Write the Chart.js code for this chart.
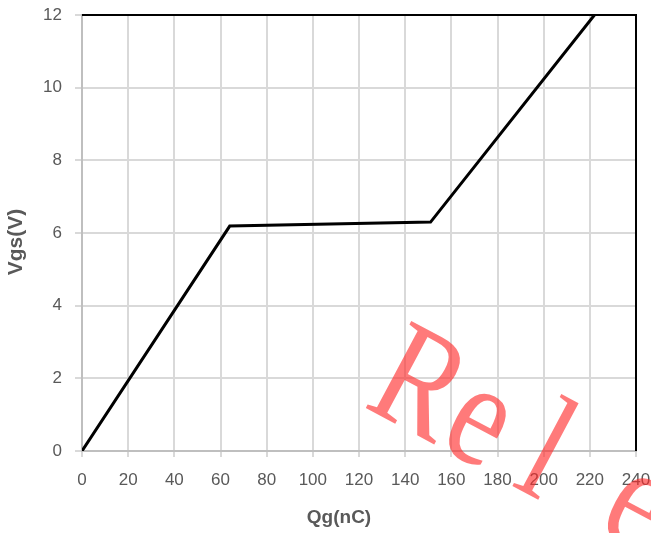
<!DOCTYPE html>
<html>
<head>
<meta charset="utf-8">
<script src="https://cdn.jsdelivr.net/npm/chart.js@4.4.1/dist/chart.umd.min.js"></script>
<style>
    html, body { margin: 0; padding: 0; background: #fff; }
    #wrap { width: 651px; height: 533px; }
</style>
</head>
<body>
<div id="wrap"><canvas id="gate-chart"></canvas></div>
<script>
// gate charge curve
const qgValues = [0, 64, 151, 222];        // nC
const vgsValues = [0, 6.19, 6.30, 12];     // V
const xTicks = [0, 20, 40, 60, 80, 100, 120, 140, 160, 180, 200, 220, 240];
const yTicks = [0, 2, 4, 6, 8, 10, 12];
const xTitle = 'Qg(nC)';
const yTitle = 'Vgs(V)';
const watermark = 'Rele';

const tickColor = '#595959';
const gridColor = '#d9d9d9';
const fontFamily = '"Liberation Sans", Arial, sans-serif';

// black frame on top and right side of the plot
const framePlugin = {
    id: 'frame',
    afterDatasetsDraw(chart) {
        const {ctx, chartArea} = chart;
        ctx.save();
        ctx.strokeStyle = '#000';
        ctx.lineWidth = 2;
        ctx.beginPath();
        ctx.moveTo(chartArea.left, chartArea.top);
        ctx.lineTo(chartArea.right, chartArea.top);
        ctx.lineTo(chartArea.right, chartArea.bottom);
        ctx.stroke();
        ctx.restore();
    }
};

// axis titles (placed a bit off-centre like the original)
const titlesPlugin = {
    id: 'axisTitles',
    afterDraw(chart) {
        const ctx = chart.ctx;
        ctx.save();
        ctx.fillStyle = tickColor;
        ctx.textAlign = 'center';
        ctx.textBaseline = 'middle';
        ctx.font = 'bold 19px ' + fontFamily;
        ctx.fillText(xTitle, 339, 518);
        ctx.translate(16, 242);
        ctx.rotate(-Math.PI / 2);
        ctx.font = 'bold 21px ' + fontFamily;
        ctx.fillText(yTitle, 0, 0);
        ctx.restore();
    }
};

// red watermark drawn over everything, letters spaced out
const watermarkPlugin = {
    id: 'watermark',
    afterDraw(chart) {
        const ctx = chart.ctx;
        const offsets = [0, 84, 168, 264];
        ctx.save();
        ctx.translate(362, 406);
        ctx.rotate(28 * Math.PI / 180);
        ctx.font = '150px "Liberation Serif", serif';
        ctx.fillStyle = 'rgba(255, 40, 40, 0.62)';
        ctx.textBaseline = 'alphabetic';
        watermark.split('').forEach((ch, i) => {
            ctx.save();
            ctx.translate(offsets[i], 0);
            ctx.scale(0.82, 1);
            ctx.fillText(ch, 0, 0);
            ctx.restore();
        });
        ctx.restore();
    }
};

const data = {
    datasets: [{
        label: 'Vgs',
        data: qgValues.map((q, i) => ({x: q, y: vgsValues[i]})),
        borderColor: '#000',
        borderWidth: 3,
        pointRadius: 0,
        tension: 0,
        fill: false
    }]
};

new Chart(document.getElementById('gate-chart'), {
    type: 'line',
    data: data,
    plugins: [framePlugin, titlesPlugin, watermarkPlugin],
    options: {
        responsive: true,
        maintainAspectRatio: false,
        animation: false,
        layout: {
            padding: {top: 15, right: 15, left: 0, bottom: 0}
        },
        plugins: {
            legend: {display: false},
            tooltip: {enabled: false}
        },
        scales: {
            x: {
                type: 'linear',
                min: 0,
                max: 240,
                afterBuildTicks: (scale) => {
                    scale.ticks = xTicks.map(v => ({value: v}));
                },
                afterFit: (scale) => {
                    scale.height = 82;
                    scale.paddingLeft = 0;
                    scale.paddingRight = 0;
                },
                ticks: {
                    color: tickColor,
                    font: {family: fontFamily, size: 17},
                    padding: 13,
                    maxRotation: 0
                },
                grid: {
                    color: gridColor,
                    lineWidth: 2,
                    tickLength: 6,
                    tickColor: gridColor
                },
                border: {color: '#bfbfbf', width: 2}
            },
            y: {
                type: 'linear',
                min: 0,
                max: 12,
                afterBuildTicks: (scale) => {
                    scale.ticks = yTicks.map(v => ({value: v}));
                },
                afterFit: (scale) => {
                    scale.width = 82;
                    scale.paddingTop = 0;
                    scale.paddingBottom = 0;
                },
                ticks: {
                    color: tickColor,
                    font: {family: fontFamily, size: 17},
                    padding: 13
                },
                grid: {
                    color: gridColor,
                    lineWidth: 2,
                    tickLength: 7,
                    tickColor: gridColor
                },
                border: {color: '#bfbfbf', width: 2}
            }
        }
    }
});
</script>
</body>
</html>
